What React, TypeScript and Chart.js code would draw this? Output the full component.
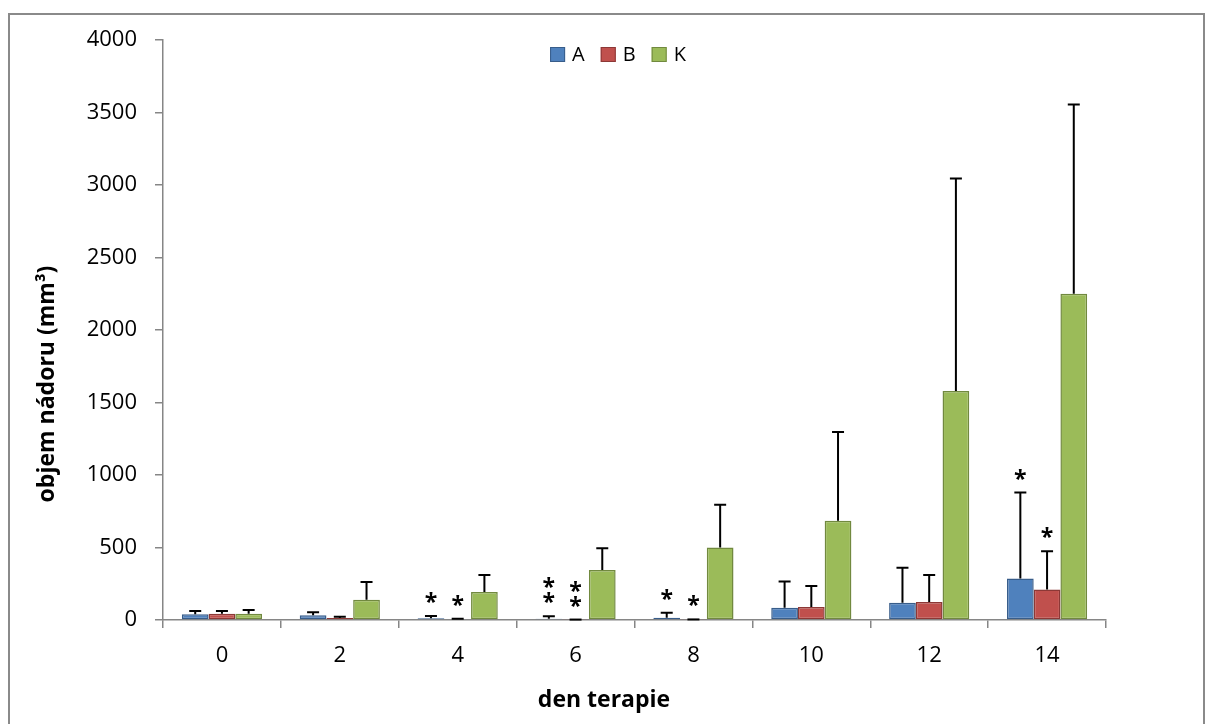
import React, { useEffect, useRef } from "react";
import { Chart, registerables } from "chart.js";
Chart.register(...registerables);

const categories = ["0", "2", "4", "6", "8", "10", "12", "14"];
const seriesNames = ["A", "B", "K"];
const valuesA = [40, 32, 12, 8, 16, 85, 119, 287];
const valuesB = [43, 14, 6, 3, 4, 90, 124, 211];
const valuesK = [43, 140, 193, 345, 500, 685, 1579, 2250];
const errorsA = [22, 21, 16, 18, 34, 180, 241, 592];
const errorsB = [19, 9, 2, 0, 0, 144, 186, 264];
const errorsK = [26, 122, 117, 150, 295, 612, 1466, 1305];
const starsA = ["", "", "*", "**", "*", "", "", "*"];
const starsB = ["", "", "*", "**", "*", "", "", "*"];
const starsK = ["", "", "", "", "", "", "", ""];
const yMin = 0;
const yMax = 4000;
const yStep = 500;
const xTitle = "den terapie";
const yTitle = "objem nádoru (mm³)";

const fillColors = ["#4f81bd", "#c0504d", "#9bbb59"];
const edgeColors = ["#385d8a", "#8c3836", "#71893f"];
const FONT = "'Open Sans', sans-serif";
const AXIS = "#868686";

const errorBarPlugin = {
  id: "errorBars",
  afterDatasetsDraw(chart: any) {
    const ctx = chart.ctx;
    const yScale = chart.scales.y;
    ctx.save();
    ctx.strokeStyle = "#000";
    ctx.lineWidth = 2;
    chart.data.datasets.forEach((ds: any, i: number) => {
      const meta = chart.getDatasetMeta(i);
      meta.data.forEach((el: any, j: number) => {
        const v = ds.data[j];
        const e = ds.errors[j];
        const yTop = yScale.getPixelForValue(v + e);
        const yBar = yScale.getPixelForValue(v);
        ctx.beginPath();
        ctx.moveTo(el.x, yBar);
        ctx.lineTo(el.x, yTop);
        ctx.moveTo(el.x - 6, yTop);
        ctx.lineTo(el.x + 6, yTop);
        ctx.stroke();
        const s: string = ds.stars[j] || "";
        ctx.fillStyle = "#000";
        ctx.font = `bold 23px ${FONT}`;
        ctx.textAlign = "center";
        ctx.textBaseline = "alphabetic";
        for (let k = 0; k < s.length; k++) {
          const cy = yTop - 19 - k * 15;
          ctx.fillText("*", el.x, cy + 13);
        }
      });
    });
    ctx.restore();
  },
};

const decorPlugin = {
  id: "decor",
  afterDraw(chart: any) {
    const ctx = chart.ctx;
    const ca = chart.chartArea;
    ctx.save();
    // legend
    ctx.font = `20px ${FONT}`;
    const box = 15;
    const gapText = 7;
    const gapItem = 16;
    const items = chart.data.datasets.map((ds: any) => ({
      label: ds.label,
      fill: ds.backgroundColor,
      edge: ds.borderColor,
      w: ctx.measureText(ds.label).width,
    }));
    let total = 0;
    items.forEach((it: any, i: number) => {
      total += box + gapText + it.w + (i < items.length - 1 ? gapItem : 0);
    });
    let x = ca.left + 455 - total / 2;
    const by = ca.top + 7;
    items.forEach((it: any) => {
      ctx.fillStyle = it.fill;
      ctx.fillRect(x, by, box, box);
      ctx.strokeStyle = it.edge;
      ctx.lineWidth = 1;
      ctx.strokeRect(x + 0.5, by + 0.5, box - 1, box - 1);
      ctx.fillStyle = "#000";
      ctx.textAlign = "left";
      ctx.textBaseline = "middle";
      ctx.fillText(it.label, x + box + gapText, by + box / 2 + 1);
      x += box + gapText + it.w + gapItem;
    });
    // axis titles
    ctx.fillStyle = "#000";
    ctx.font = `bold 23px ${FONT}`;
    ctx.textAlign = "center";
    ctx.textBaseline = "alphabetic";
    ctx.fillText(xTitle, ca.left + 441, ca.bottom + 87);
    ctx.save();
    ctx.translate(37, ca.bottom - 236);
    ctx.rotate(-Math.PI / 2);
    ctx.textBaseline = "middle";
    ctx.fillText(yTitle, 0, 0);
    ctx.restore();
    ctx.restore();
  },
};

export default function App() {
  const ref = useRef<HTMLCanvasElement>(null);
  useEffect(() => {
    const values = [valuesA, valuesB, valuesK];
    const errors = [errorsA, errorsB, errorsK];
    const stars = [starsA, starsB, starsK];
    const chart = new Chart(ref.current as HTMLCanvasElement, {
      type: "bar",
      data: {
        labels: categories,
        datasets: seriesNames.map((name, i) => ({
          label: name,
          data: values[i],
          errors: errors[i],
          stars: stars[i],
          backgroundColor: fillColors[i],
          borderColor: edgeColors[i],
          borderWidth: 1.5,
          borderSkipped: false,
          categoryPercentage: 0.68,
          barPercentage: 1,
        })) as any,
      },
      options: {
        responsive: true,
        maintainAspectRatio: false,
        animation: false,
        layout: { padding: { top: 25, right: 97, bottom: 0, left: 0 } },
        plugins: {
          legend: { display: false },
          tooltip: { enabled: false },
        },
        scales: {
          x: {
            grid: {
              offset: true,
              drawOnChartArea: false,
              drawTicks: true,
              tickLength: 8,
              color: AXIS,
              lineWidth: 1.5,
            },
            border: { color: AXIS, width: 1.5 },
            ticks: {
              color: "#000",
              font: { family: FONT, size: 22 },
              padding: 15,
              maxRotation: 0,
              autoSkip: false,
            },
            afterFit: (s: any) => {
              s.height = 104;
              s.paddingLeft = 0;
              s.paddingRight = 0;
            },
          },
          y: {
            min: yMin,
            max: yMax,
            grid: {
              drawOnChartArea: false,
              drawTicks: true,
              tickLength: 8,
              color: AXIS,
              lineWidth: 1.5,
            },
            border: { color: AXIS, width: 1.5 },
            ticks: {
              stepSize: yStep,
              color: "#000",
              font: { family: FONT, size: 22 },
              padding: 18,
              callback: (v: any) => String(v),
            },
            afterFit: (s: any) => {
              s.width = 153;
              s.paddingTop = 0;
              s.paddingBottom = 0;
            },
          },
        },
      } as any,
      plugins: [errorBarPlugin, decorPlugin],
    });
    return () => chart.destroy();
  }, []);
  return (
    <div
      style={{
        position: "fixed",
        left: 8,
        top: 13,
        width: 1193,
        height: 720,
        border: "2px solid #8a8a8a",
        background: "#fff",
      }}
    >
      <div style={{ position: "relative", width: 1193, height: 709 }}>
        <canvas ref={ref} />
      </div>
    </div>
  );
}
